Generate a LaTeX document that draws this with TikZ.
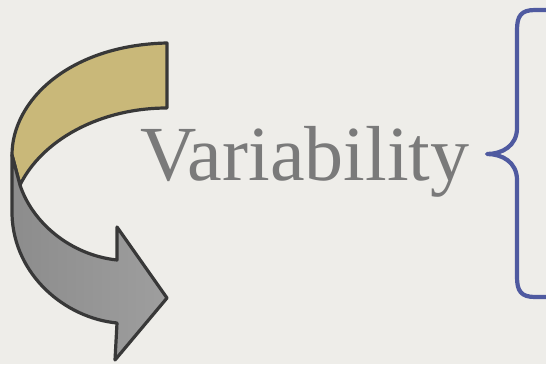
\documentclass[tikz,border=0pt]{standalone}
\usepackage{fontspec}
\setmainfont{Liberation Serif}
\begin{document}
\begin{tikzpicture}[x=1pt,y=-1pt,
  bandline/.style={draw=black!78,line width=3.2pt,line join=round},
  bracestyle/.style={draw=brace,line width=4.2pt,line cap=round,line join=round}]
\definecolor{bg}{HTML}{EEEDE9}
\definecolor{gold}{HTML}{C9B879}
\definecolor{brace}{HTML}{4F5AA0}
\definecolor{txt}{HTML}{7A7A7A}
\fill[bg] (0,0) rectangle (546,364);
\useasboundingbox (0,0) rectangle (546,364);
% gold band
\path[bandline,fill=gold] (167,43) .. controls (70,45) and (12,100) .. (12,155)
  -- (20,185) .. controls (42,140) and (100,108) .. (167,108) -- cycle;
% gray arrow
\path[bandline,left color=black!45,right color=black!38]
  (12,155) -- (12,215) .. controls (14,275) and (65,318) .. (117,323)
  -- (115,360) -- (167,298) -- (117,227) -- (117,260)
  .. controls (70,255) and (32,222) .. (20,185) -- cycle;
% text
\node[anchor=base west,inner sep=0pt,text=txt,font=\fontsize{78}{82}\selectfont] (var) at (140,180) {Variability};
% brace
\coordinate (btop) at (548,10);
\coordinate (bbot) at (548,297);
\coordinate (btip) at (487,154);
\draw[bracestyle] (btop) -- (535,10) .. controls (521,10) and (517,16) .. (517,30)
  -- (517,128) .. controls (517,146) and (502,154) .. (btip)
  .. controls (502,154) and (517,162) .. (517,180)
  -- (517,277) .. controls (517,291) and (521,297) .. (535,297) -- (bbot);
\end{tikzpicture}
\end{document}
